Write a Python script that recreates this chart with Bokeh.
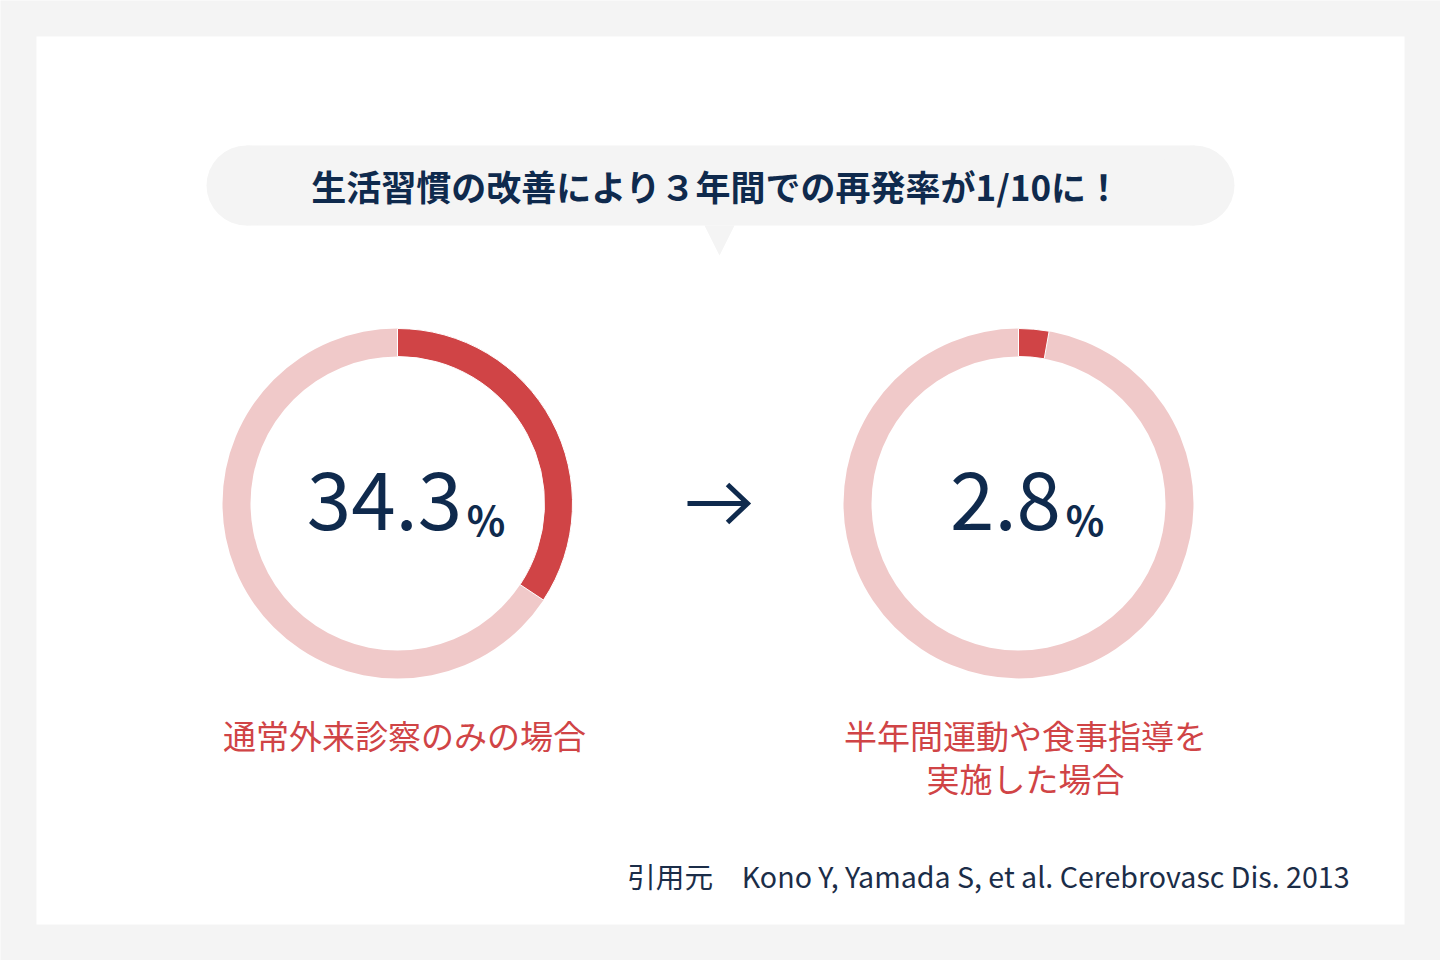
import math
from bokeh.plotting import figure
from bokeh.models import Range1d
from bokeh.core.properties import value
from bokeh.embed import file_html
from bokeh.resources import INLINE

# ---- data ----
rates = [34.3, 2.8]
rate_labels = ["34.3", "2.8"]
label_lines = [["通常外来診察のみの場合"], ["半年間運動や食事指導を", "実施した場合"]]
title_text = "生活習慣の改善により３年間での再発率が1/10に！"
source_text = "引用元　Kono Y, Yamada S, et al. Cerebrovasc Dis. 2013"

# ---- style ----
NAVY = "#0f2a4d"
RED = "#d04446"
PINK = "#f0c9c9"
BG = "#f4f4f4"
FONT = value("Noto Sans CJK JP")

p = figure(width=1440, height=960, x_range=Range1d(0, 1440), y_range=Range1d(0, 960),
           output_backend="svg", toolbar_location=None, min_border=0)
p.axis.visible = False
p.grid.visible = False
p.outline_line_color = None
p.background_fill_color = BG
p.border_fill_color = BG


def Y(yr):
    return 960 - yr


# card
p.quad(left=36, right=1404, top=Y(36), bottom=Y(924), fill_color="white", line_color=None)

# speech bubble
p.quad(left=246, right=1194, top=Y(145), bottom=Y(225), fill_color=BG, line_color=None)
p.circle(x=[246, 1194], y=[Y(185), Y(185)], radius=40, fill_color=BG, line_color=None)
p.patch(x=[704, 734, 719], y=[Y(225), Y(225), Y(255)], fill_color=BG, line_color=None)
p.text(x=[716], y=[Y(185)], text=[title_text], text_font=FONT, text_font_style="bold",
       text_font_size="35px", text_color=NAVY, text_align="center", text_baseline="middle")

# donuts
centers = [397, 1018]
cy = Y(503)
r_in, r_out = 147, 175
for cx, rate, lab, lines in zip(centers, rates, rate_labels, label_lines):
    p.annulus(x=[cx], y=[cy], inner_radius=r_in, outer_radius=r_out,
              fill_color=PINK, line_color=None)
    frac = rate / 100.0
    p.annular_wedge(x=[cx], y=[cy], inner_radius=r_in, outer_radius=r_out,
                    start_angle=math.pi / 2, end_angle=math.pi / 2 - 2 * math.pi * frac,
                    direction="clock", fill_color=RED, line_color="white", line_width=1)
    fs = 80
    w = sum(0.55 * fs if ch.isdigit() else 0.28 * fs for ch in lab)
    dx = cx - 13
    p.text(x=[dx], y=[Y(500)], text=[lab], text_font=FONT, text_font_size=f"{fs}px",
           text_color=NAVY, text_align="center", text_baseline="middle")
    p.text(x=[dx + w / 2 + 5], y=[Y(518)], text=["%"], text_font=FONT, text_font_style="bold",
           text_font_size="40px", text_color=NAVY, text_align="left", text_baseline="middle")
    for k, line in enumerate(lines):
        p.text(x=[cx + 7], y=[Y(734 + 43 * k)], text=[line], text_font=FONT,
               text_font_size="33px", text_color=RED, text_align="center", text_baseline="middle")

# arrow
p.line(x=[687, 747], y=[Y(503), Y(503)], line_width=5, line_color=NAVY)
p.line(x=[727, 747, 727], y=[Y(484), Y(503), Y(522)], line_width=5, line_color=NAVY,
       line_join="miter")

# source
p.text(x=[1349], y=[Y(875)], text=[source_text], text_font=FONT, text_font_size="28.6px",
       text_color="#1b2d48", text_align="right", text_baseline="middle")

open("out.html", "w").write(file_html(p, INLINE))
